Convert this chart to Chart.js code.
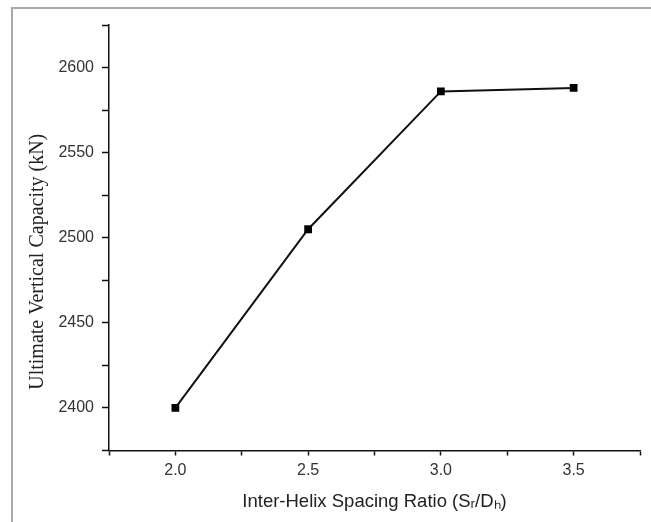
<!DOCTYPE html>
<html>
<head>
<meta charset="utf-8">
<script src="https://cdn.jsdelivr.net/npm/chart.js@4"></script>
<style>
  html, body { margin: 0; padding: 0; background: #fff; width: 651px; height: 522px; overflow: hidden; }
  #frame { position: absolute; left: 11px; top: 7px; width: 700px; height: 600px; border: 2px solid #a8a8a8; box-sizing: border-box; }
  #c { position: absolute; left: 0; top: 0; }
</style>
</head>
<body>
<div id="frame"></div>
<canvas id="c" width="651" height="522"></canvas>
<script>
const spacingRatio = [2.0, 2.5, 3.0, 3.5];
const capacityKN = [2400, 2505, 2586, 2588];
const xTickLabels = ['2.0', '2.5', '3.0', '3.5'];
const yTickLabels = ['2400', '2450', '2500', '2550', '2600'];
const xTitle = 'Inter-Helix Spacing Ratio (S\u1D63/D\u2095)';
const yTitle = 'Ultimate Vertical Capacity (kN)';

const points = spacingRatio.map((x, i) => ({ x: x, y: capacityKN[i] }));

function labelFor(list, v, digits) {
  const s = digits ? v.toFixed(digits) : String(Math.round(v));
  return list.includes(s) ? s : '';
}

const yTitlePlugin = {
  id: 'yTitlePlugin',
  afterDraw(chart) {
    const ctx = chart.ctx;
    const area = chart.chartArea;
    ctx.save();
    ctx.translate(38, (area.top + area.bottom) / 2 + 24);
    ctx.rotate(-Math.PI / 2);
    ctx.font = '20px "Liberation Serif", "Times New Roman", serif';
    ctx.fillStyle = '#222';
    ctx.textAlign = 'center';
    ctx.textBaseline = 'middle';
    ctx.fillText(yTitle, 0, 0);
    ctx.restore();
  }
};

new Chart(document.getElementById('c'), {
  type: 'line',
  data: {
    datasets: [{
      data: points,
      borderColor: '#111',
      borderWidth: 2,
      backgroundColor: '#000',
      pointStyle: 'rect',
      pointRadius: 5.5,
      pointBorderWidth: 0,
      pointBackgroundColor: '#000',
      tension: 0,
      fill: false
    }]
  },
  plugins: [yTitlePlugin],
  options: {
    responsive: false,
    devicePixelRatio: 1,
    animation: false,
    layout: { padding: { left: 0, right: 11, top: 25, bottom: 0 } },
    plugins: { legend: { display: false }, tooltip: { enabled: false } },
    scales: {
      x: {
        type: 'linear',
        min: 1.75, max: 3.75,
        afterFit: s => { s.height = 71.5; },
        border: { display: true, color: '#111', width: 1.5 },
        grid: { drawOnChartArea: false, drawTicks: true, tickLength: 5, tickColor: '#111', tickWidth: 1.5 },
        ticks: {
          stepSize: 0.25, autoSkip: false, maxRotation: 0, padding: 5,
          color: '#333', font: { family: '"Liberation Sans", Arial, sans-serif', size: 16 },
          callback: v => labelFor(xTickLabels, v, 1)
        },
        title: {
          display: true, text: xTitle, color: '#222',
          font: { family: '"Liberation Sans", Arial, sans-serif', size: 18.5 },
          padding: { top: 0, bottom: 9 }
        }
      },
      y: {
        type: 'linear',
        min: 2375, max: 2625,
        afterFit: s => { s.width = 109; },
        border: { display: true, color: '#111', width: 1.5 },
        grid: { drawOnChartArea: false, drawTicks: true, tickLength: 7, tickColor: '#111', tickWidth: 1.5 },
        ticks: {
          stepSize: 25, autoSkip: false, padding: 8,
          color: '#333', font: { family: '"Liberation Sans", Arial, sans-serif', size: 16 },
          callback: v => labelFor(yTickLabels, v, 0)
        },
        title: { display: false }
      }
    }
  }
});
</script>
</body>
</html>
